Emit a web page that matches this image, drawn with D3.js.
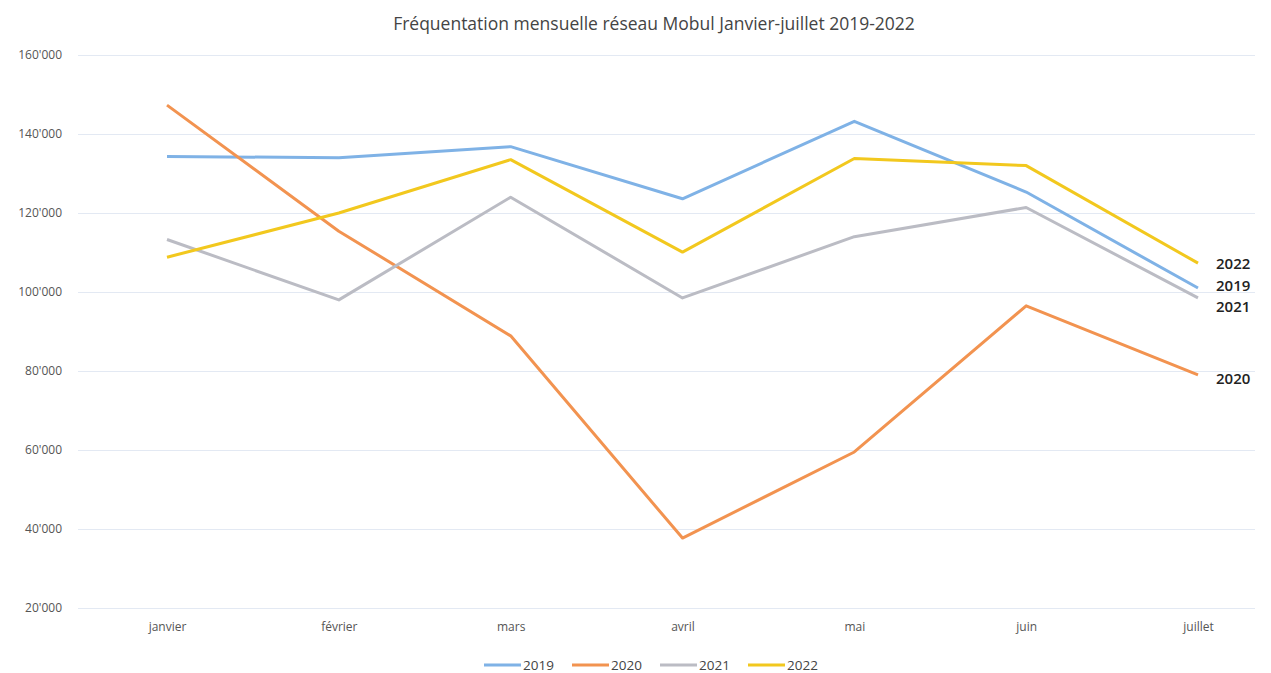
<!DOCTYPE html>
<html>
<head>
<meta charset="utf-8">
<script src="https://cdn.jsdelivr.net/npm/d3@7"></script>
<style>
  body { margin: 0; background: #fff; }
  text { font-family: "Open Sans", "Noto Sans", sans-serif; }
</style>
</head>
<body>
<div id="chart"></div>
<script>
const months = ["janvier", "février", "mars", "avril", "mai", "juin", "juillet"];
const years = ["2019", "2020", "2021", "2022"];
const v2019 = [134300, 134000, 136800, 123600, 143200, 125300, 101000];
const v2020 = [147300, 115400, 88900, 37700, 59500, 96500, 79000];
const v2021 = [113300, 98000, 124000, 98500, 114000, 121400, 98500];
const v2022 = [108800, 120000, 133500, 110100, 133800, 132000, 107300];
const yTicks = [20000, 40000, 60000, 80000, 100000, 120000, 140000, 160000];
const colors = ["#7fb2e6", "#f29350", "#bbbcc4", "#f2c81e"];

const width = 1271, height = 673;
const series = [v2019, v2020, v2021, v2022].map((values, i) => ({ year: years[i], values, color: colors[i] }));

const x = d3.scalePoint().domain(months).range([167, 1198]);
const y = d3.scaleLinear().domain([20000, 160000]).range([608, 55]);

const svg = d3.select("#chart").append("svg")
  .attr("width", width)
  .attr("height", height);

svg.append("text")
  .attr("x", 654)
  .attr("y", 30)
  .attr("text-anchor", "middle")
  .attr("font-size", 17.5)
  .attr("fill", "#444")
  .text("Fréquentation mensuelle réseau  Mobul Janvier-juillet 2019-2022");

// grille + graduations
const fmt = v => d3.format(",")(v).replace(/,/g, "'");
const yAxis = svg.append("g")
  .attr("transform", "translate(78,0)")
  .call(d3.axisLeft(y).tickValues(yTicks).tickSize(-1177).tickFormat(fmt).tickPadding(16));
yAxis.select(".domain").remove();
yAxis.selectAll(".tick line").attr("stroke", "#e3e9f3").attr("stroke-width", 1);
yAxis.selectAll(".tick text").attr("font-size", 12).attr("fill", "#555");

const xAxis = svg.append("g")
  .attr("transform", "translate(0,608)")
  .call(d3.axisBottom(x).tickSize(0).tickPadding(14));
xAxis.select(".domain").remove();
xAxis.selectAll(".tick text").attr("font-size", 12).attr("fill", "#555");

const line = d3.line()
  .x((d, i) => x(months[i]))
  .y(d => y(d));

svg.append("g")
  .attr("fill", "none")
  .attr("stroke-width", 3)
  .attr("stroke-linejoin", "round")
  .selectAll("path")
  .data(series)
  .join("path")
  .attr("stroke", d => d.color)
  .attr("d", d => line(d.values));

// étiquettes en fin de ligne (décalées pour ne pas se chevaucher)
const labelShift = { "2019": -2, "2020": 4, "2021": 9, "2022": 1 };
svg.append("g")
  .selectAll("text")
  .data(series)
  .join("text")
  .attr("x", 1216)
  .attr("y", d => y(d.values[6]) + labelShift[d.year])
  .attr("dy", "0.35em")
  .attr("font-size", 15)
  .attr("font-weight", 600)
  .attr("fill", "#222")
  .text(d => d.year);

// légende
const legend = svg.append("g")
  .attr("transform", "translate(484,665)")
  .selectAll("g")
  .data(series)
  .join("g")
  .attr("transform", (d, i) => `translate(${i * 88},0)`);
legend.append("line")
  .attr("x1", 0).attr("x2", 37)
  .attr("stroke", d => d.color)
  .attr("stroke-width", 3);
legend.append("text")
  .attr("x", 39)
  .attr("dy", "0.35em")
  .attr("font-size", 13.5)
  .attr("fill", "#444")
  .text(d => d.year);
</script>
</body>
</html>
